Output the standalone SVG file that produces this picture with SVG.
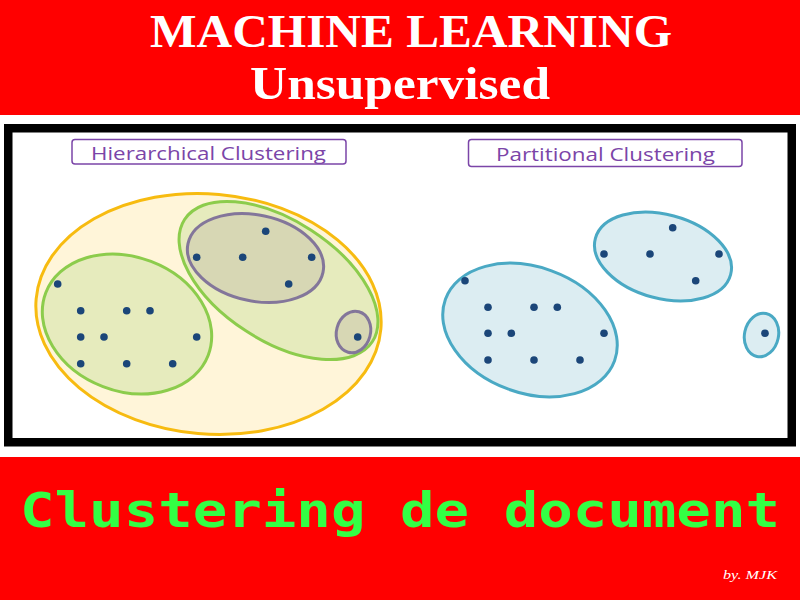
<svg xmlns="http://www.w3.org/2000/svg" width="800" height="600" viewBox="0 0 800 600">
<style>
.band{fill:#ff0000}
.title{font-family:"Liberation Serif",serif;font-weight:bold;fill:#ffffff;font-size:46px}
.lbl{fill:#ffffff;stroke:#7b45a8;stroke-width:1.5}
.lbltext{font-family:"Open Sans","DejaVu Sans",sans-serif;fill:#7b45a8;font-size:19px}
.outer{fill:#fff5d9;stroke:#f7bb10;stroke-width:3}
.green{fill:#e6ebbd;stroke:#8ccc4c;stroke-width:3}
.gray{fill:#d7d7b4;stroke:#83769a;stroke-width:3}
.blue{fill:#dcedf2;stroke:#4aa9c4;stroke-width:3}
.dot{fill:#1b4679}
.bottom{font-family:"DejaVu Sans Mono","Liberation Mono",monospace;font-weight:bold;fill:#33ff44;font-size:48px}
.sig{font-family:"Liberation Serif",serif;font-style:italic;fill:#ffffff;font-size:13px}
</style>
<rect class="band" x="0" y="0" width="800" height="115"/>
<text class="title" x="411" y="47" text-anchor="middle" textLength="522" lengthAdjust="spacingAndGlyphs">MACHINE LEARNING</text>
<text class="title" x="400" y="99" text-anchor="middle" textLength="300" lengthAdjust="spacingAndGlyphs">Unsupervised</text>

<rect x="8.25" y="128.25" width="783.5" height="314" fill="#ffffff" stroke="#000000" stroke-width="8.5"/>

<g id="hierarchical">
  <g id="hier-label">
    <rect class="lbl" x="72" y="139.5" width="274" height="24.5" rx="3"/>
    <text class="lbltext" x="208.5" y="160" text-anchor="middle" textLength="235" lengthAdjust="spacingAndGlyphs">Hierarchical Clustering</text>
  </g>
  <g id="hier-outer"><ellipse class="outer" cx="208.5" cy="314" rx="173" ry="120" transform="rotate(5 208.5 314)"/></g>
  <g id="hier-left"><ellipse class="green" cx="127" cy="324" rx="87" ry="67" transform="rotate(21 127 324)"/></g>
  <g id="hier-right"><ellipse class="green" cx="278.5" cy="280.5" rx="112" ry="60" transform="rotate(33 278.5 280.5)"/></g>
  <g id="hier-sub1"><ellipse class="gray" cx="255.5" cy="258" rx="69" ry="43" transform="rotate(12 255.5 258)"/></g>
  <g id="hier-sub2"><ellipse class="gray" cx="353.5" cy="332" rx="17" ry="21" transform="rotate(15 353.5 332)"/></g>
  <g id="hier-dots">
    <circle class="dot" cx="57.7" cy="284" r="3.8"/>
    <circle class="dot" cx="80.7" cy="310.7" r="3.8"/>
    <circle class="dot" cx="126.7" cy="310.7" r="3.8"/>
    <circle class="dot" cx="150" cy="310.7" r="3.8"/>
    <circle class="dot" cx="80.7" cy="337" r="3.8"/>
    <circle class="dot" cx="104" cy="337" r="3.8"/>
    <circle class="dot" cx="196.7" cy="337" r="3.8"/>
    <circle class="dot" cx="80.7" cy="363.7" r="3.8"/>
    <circle class="dot" cx="126.7" cy="363.7" r="3.8"/>
    <circle class="dot" cx="172.7" cy="363.7" r="3.8"/>
    <circle class="dot" cx="265.7" cy="231.3" r="3.8"/>
    <circle class="dot" cx="196.7" cy="257.3" r="3.8"/>
    <circle class="dot" cx="242.7" cy="257.3" r="3.8"/>
    <circle class="dot" cx="311.7" cy="257.3" r="3.8"/>
    <circle class="dot" cx="288.7" cy="284" r="3.8"/>
    <circle class="dot" cx="357.7" cy="337" r="3.8"/>
  </g>
</g>

<g id="partitional">
  <g id="part-label">
    <rect class="lbl" x="468.5" y="139.5" width="273.5" height="27" rx="3"/>
    <text class="lbltext" x="605.5" y="161" text-anchor="middle" textLength="219" lengthAdjust="spacingAndGlyphs">Partitional Clustering</text>
  </g>
  <g id="part-c1"><ellipse class="blue" cx="530" cy="330" rx="90" ry="63" transform="rotate(20 530 330)"/></g>
  <g id="part-c2"><ellipse class="blue" cx="663" cy="256.5" rx="70" ry="42" transform="rotate(15 663 256.5)"/></g>
  <g id="part-c3"><ellipse class="blue" cx="761.5" cy="335" rx="17" ry="22" transform="rotate(12 761.5 335)"/></g>
  <g id="part-dots">
    <circle class="dot" cx="465" cy="280.7" r="3.8"/>
    <circle class="dot" cx="488" cy="307.3" r="3.8"/>
    <circle class="dot" cx="534" cy="307.3" r="3.8"/>
    <circle class="dot" cx="557.3" cy="307.3" r="3.8"/>
    <circle class="dot" cx="488" cy="333.3" r="3.8"/>
    <circle class="dot" cx="511.3" cy="333.3" r="3.8"/>
    <circle class="dot" cx="604" cy="333.3" r="3.8"/>
    <circle class="dot" cx="488" cy="360" r="3.8"/>
    <circle class="dot" cx="534" cy="360" r="3.8"/>
    <circle class="dot" cx="580" cy="360" r="3.8"/>
    <circle class="dot" cx="672.7" cy="227.7" r="3.8"/>
    <circle class="dot" cx="604" cy="254" r="3.8"/>
    <circle class="dot" cx="650" cy="254" r="3.8"/>
    <circle class="dot" cx="719" cy="254" r="3.8"/>
    <circle class="dot" cx="695.7" cy="280.7" r="3.8"/>
    <circle class="dot" cx="765" cy="333.3" r="3.8"/>
  </g>
</g>

<rect class="band" x="0" y="457" width="800" height="143"/>
<text class="bottom" x="20" y="527" textLength="760" lengthAdjust="spacingAndGlyphs">Clustering de document</text>
<text class="sig" x="723" y="579" textLength="54" lengthAdjust="spacingAndGlyphs">by. MJK</text>
</svg>
